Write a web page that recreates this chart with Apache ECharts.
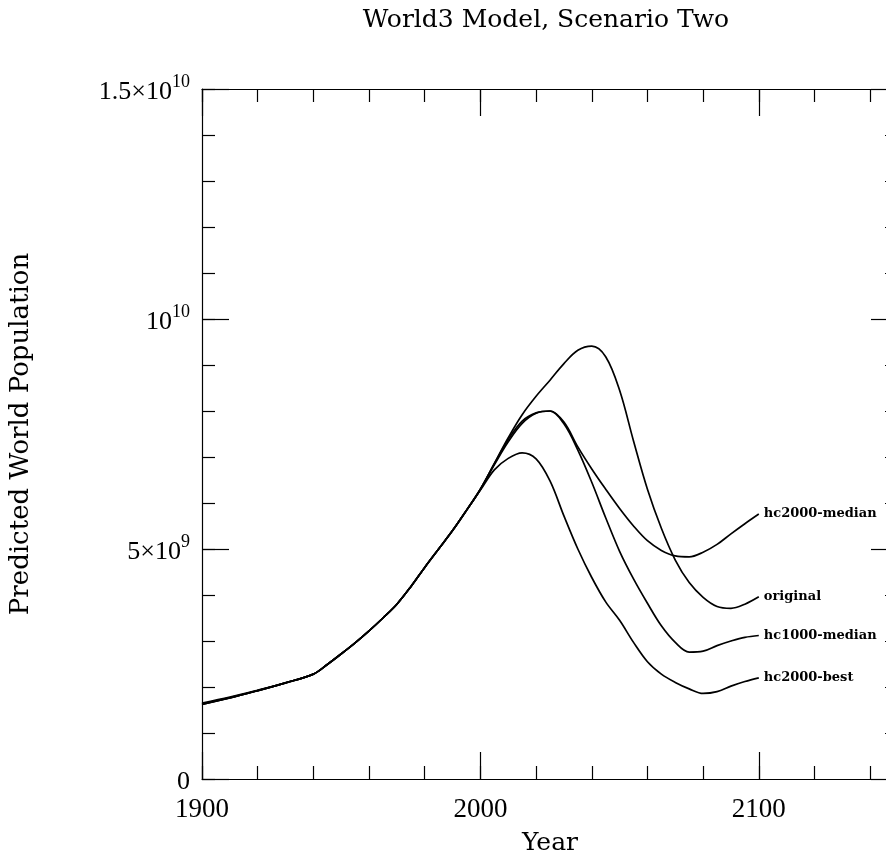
<!DOCTYPE html>
<html>
<head>
<meta charset="utf-8">
<script src="https://cdn.jsdelivr.net/npm/echarts@6/dist/echarts.min.js"></script>
<style>html,body{margin:0;padding:0;background:#fff;}#chart{width:886px;height:854px;}</style>
</head>
<body>
<div id="chart"></div>
<script>
// Years sampled (x values)
const years = [1900,1910,1920,1930,1940,1945,1950,1955,1960,1965,1970,1975,1980,1985,1990,1995,2000,
  2005,2010,2015,2020,2025,2030,2035,2040,2045,2050,2055,2060,2065,2070,2075,2080,2085,2090,2095,2100];
// Population values, in billions (1e9)
const original = [1.65,1.78,1.93,2.09,2.28,2.49,2.72,2.96,3.22,3.50,3.80,4.18,4.60,5.00,5.40,5.84,6.30,
  6.86,7.42,7.92,8.32,8.67,9.03,9.32,9.41,9.18,8.45,7.35,6.30,5.45,4.76,4.27,3.95,3.75,3.71,3.80,3.96];
const hc2000Median = [1.63,1.77,1.92,2.09,2.28,2.49,2.72,2.96,3.22,3.50,3.80,4.18,4.60,5.00,5.40,5.84,6.30,
  6.85,7.38,7.78,7.96,8.00,7.76,7.22,6.74,6.30,5.88,5.50,5.18,4.97,4.85,4.83,4.93,5.10,5.33,5.55,5.76];
const hc1000Median = [1.62,1.76,1.92,2.09,2.28,2.49,2.72,2.96,3.22,3.50,3.80,4.18,4.60,5.00,5.40,5.84,6.30,
  6.83,7.33,7.73,7.95,8.00,7.72,7.15,6.45,5.68,4.95,4.35,3.82,3.33,2.97,2.76,2.78,2.90,3.00,3.08,3.12];
const hc2000Best = [1.62,1.76,1.92,2.09,2.28,2.49,2.72,2.96,3.22,3.50,3.80,4.18,4.60,5.00,5.40,5.84,6.28,
  6.72,6.97,7.09,6.96,6.48,5.72,5.00,4.38,3.85,3.45,2.97,2.55,2.28,2.10,1.96,1.86,1.90,2.02,2.12,2.20];
const seriesNames = ['original','hc2000-median','hc1000-median','hc2000-best'];
const xTickLabels = [1900, 2000, 2100];

const SERIF = '"Liberation Serif", "DejaVu Serif", serif';
const TITLEFONT = '"DejaVu Serif", serif';

function toPairs(vals){ return years.map((y,i)=>[y, vals[i]*1e9]); }

const chart = echarts.init(document.getElementById('chart'), null, {renderer:'canvas'});

function xAx(pos, interval, len, showLine, showLabel){
  return {
    type:'value', position: pos, min:1900, max:2150, interval: interval,
    splitLine:{show:false},
    axisLine:{show:showLine, onZero:false, lineStyle:{color:'#000', width:1.2}},
    axisTick:{show:true, inside:true, length:len, lineStyle:{color:'#000', width:1.2}},
    axisLabel:{show:showLabel, margin:17, color:'#000', fontFamily:SERIF, fontSize:27,
      showMinLabel:true, showMaxLabel:true,
      formatter: v => xTickLabels.indexOf(v) >= 0 ? String(v) : ''},
  };
}
function yAx(pos, interval, len, showLine, showLabel){
  return {
    type:'value', position: pos, min:0, max:1.5e10, interval: interval,
    splitLine:{show:false},
    axisLine:{show:showLine, onZero:false, lineStyle:{color:'#000', width:1.2}},
    axisTick:{show:true, inside:true, length:len, lineStyle:{color:'#000', width:1.2}},
    axisLabel:{show:showLabel, margin:12, color:'#000', fontFamily:SERIF, fontSize:26,
      showMinLabel:true, showMaxLabel:true,
      formatter: v => {
        if (v === 0) return '{b|0}';
        if (v === 5e9) return '{b|5×10}{s|9}';
        if (v === 1e10) return '{b|10}{s|10}';
        if (v === 1.5e10) return '{b|1.5×10}{s|10}';
        return '';
      },
      rich:{
        b:{fontFamily:SERIF, fontSize:26, color:'#000', lineHeight:32, verticalAlign:'bottom'},
        s:{fontFamily:SERIF, fontSize:18, color:'#000', lineHeight:20, verticalAlign:'top'}
      }
    },
  };
}

const xMain = xAx('bottom', 100, 27, true, true);
xMain.name = 'Year';
xMain.nameLocation = 'middle';
xMain.nameGap = 52;
xMain.nameTextStyle = {fontFamily:TITLEFONT, fontSize:25, color:'#000'};
const yMain = yAx('left', 5e9, 27, true, true);
yMain.name = 'Predicted World Population';
yMain.nameLocation = 'middle';
yMain.nameGap = 168;
yMain.nameTextStyle = {fontFamily:TITLEFONT, fontSize:26, color:'#000'};

const dataSets = [original, hc2000Median, hc1000Median, hc2000Best];

const option = {
  animation:false,
  backgroundColor:'#fff',
  grid:{left:202, right:-12, top:89, bottom:75, containLabel:false, outerBoundsMode:'none'},
  xAxis:[ xMain, xAx('bottom', 20, 13, false, false), xAx('top', 100, 27, true, false), xAx('top', 20, 13, false, false) ],
  yAxis:[ yMain, yAx('left', 1e9, 13, false, false), yAx('right', 5e9, 27, true, false), yAx('right', 1e9, 13, false, false) ],
  graphic:[{
    type:'text', x:546, y:20,
    style:{text:'World3 Model, Scenario Two', fontFamily:TITLEFONT, fontSize:25, fill:'#000',
      textAlign:'center', textVerticalAlign:'middle'}
  }],
  series: dataSets.map((d,i)=>({
    name: seriesNames[i], type:'line', xAxisIndex:0, yAxisIndex:0,
    data: toPairs(d), showSymbol:false, symbol:'none', smooth:0.35,
    lineStyle:{color:'#000', width:1.7},
    endLabel:{show:true, formatter:'{a}', distance:5, color:'#000',
      fontFamily:TITLEFONT, fontWeight:'bold', fontSize:13}
  }))
};
chart.setOption(option);
</script>
</body>
</html>
